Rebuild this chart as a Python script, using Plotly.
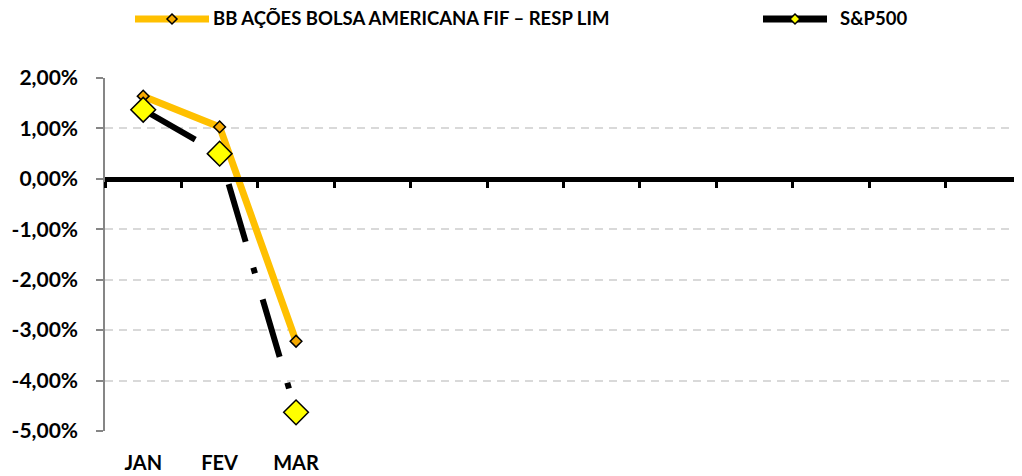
import plotly.graph_objects as go

# Monthly returns (%)
months = ["JAN", "FEV", "MAR"]
all_months = ["JAN", "FEV", "MAR", "ABR", "MAI", "JUN", "JUL", "AGO", "SET", "OUT", "NOV", "DEZ"]
bb_fund = [1.64, 1.03, -3.22]
sp500 = [1.37, 0.50, -4.63]

y_ticks = [2, 1, 0, -1, -2, -3, -4, -5]
y_tick_labels = ["2,00%", "1,00%", "0,00%", "-1,00%", "-2,00%", "-3,00%", "-4,00%", "-5,00%"]

bb_name = "BB AÇÕES BOLSA AMERICANA FIF – RESP LIM"
sp_name = "S&P500"

FONT = "Lato"
GOLD = "#FFC000"
OFF = 8  # page body margin in the browser
W, H = 1022 - OFF, 476 - OFF
ML, MR, MT, MB = 105 - OFF, 0, 78 - OFF, 45


def px_to_paper(px, py):
    # screen pixel -> paper coordinates of the plot area
    px, py = px - OFF, py - OFF
    return (px - ML) / (W - ML - MR), (H - MB - py) / (H - MT - MB)


fig = go.Figure()

fig.add_trace(
    go.Scatter(
        x=months,
        y=bb_fund,
        mode="lines+markers",
        name=bb_name,
        line=dict(color=GOLD, width=7),
        marker=dict(symbol="diamond", size=9, color="#F5A800", line=dict(color="black", width=1.5)),
        showlegend=False,
    )
)
fig.add_trace(
    go.Scatter(
        x=months,
        y=sp500,
        mode="lines+markers",
        name=sp_name,
        line=dict(color="black", width=6, dash="60px,27px,6px,27px"),
        marker=dict(symbol="diamond", size=19, color="#FFFF00", line=dict(color="black", width=1.5)),
        showlegend=False,
    )
)
# empty trace so the zero-crossing axis gets drawn
fig.add_trace(go.Scatter(x=[None], y=[None], xaxis="x2", showlegend=False, hoverinfo="skip"))

# Legend drawn by hand (long line swatch with a small diamond)
legend_items = [
    (bb_name, GOLD, "#F5A800", 135, 209, 213),
    (sp_name, "black", "#FFFF00", 763, 827, 840),
]
for label, line_col, mk_col, x0, x1, tx in legend_items:
    lx0, ly = px_to_paper(x0, 19)
    lx1, _ = px_to_paper(x1, 19)
    fig.add_shape(type="line", xref="paper", yref="paper", x0=lx0, x1=lx1, y0=ly, y1=ly,
                  line=dict(color=line_col, width=7))
    cx = (x0 + x1) / 2
    pts = [px_to_paper(cx, 14), px_to_paper(cx + 5, 19), px_to_paper(cx, 24), px_to_paper(cx - 5, 19)]
    path = "M" + " L".join(f"{a},{b}" for a, b in pts) + " Z"
    fig.add_shape(type="path", xref="paper", yref="paper", path=path,
                  fillcolor=mk_col, line=dict(color="black", width=1.5))
    ax, ay = px_to_paper(tx, 18)
    fig.add_annotation(x=ax, y=ay, xref="paper", yref="paper", text=label, showarrow=False,
                       xanchor="left", yanchor="middle", xshift=-2,
                       font=dict(family=FONT, size=18.5, weight="bold", color="black"))

fig.update_layout(
    width=W,
    height=H,
    margin=dict(l=ML, r=MR, t=MT, b=MB),
    plot_bgcolor="white",
    paper_bgcolor="white",
    font=dict(family=FONT, color="black"),
    showlegend=False,
    xaxis=dict(
        type="category",
        categoryorder="array",
        categoryarray=all_months,
        range=[-0.5, 11.5],
        tickvals=months,
        ticks="",
        showline=False,
        showgrid=False,
        zeroline=False,
        automargin=False,
        tickfont=dict(family=FONT, size=20, weight="bold"),
        ticklabelstandoff=18,
    ),
    # axis line at zero with boundary tick marks
    xaxis2=dict(
        overlaying="x",
        anchor="free",
        position=5 / 7,
        range=[-0.5, 11.5],
        tickmode="linear",
        tick0=-0.5,
        dtick=1,
        showline=True,
        linecolor="black",
        linewidth=4.5,
        ticks="outside",
        ticklen=6,
        tickwidth=3,
        tickcolor="black",
        showticklabels=False,
        showgrid=False,
        zeroline=False,
        automargin=False,
    ),
    yaxis=dict(
        range=[-5, 2],
        tickvals=y_ticks,
        ticktext=y_tick_labels,
        showline=True,
        linecolor="#868686",
        linewidth=1.5,
        ticks="outside",
        ticklen=7,
        tickwidth=1.5,
        tickcolor="#868686",
        showgrid=True,
        gridcolor="#D9D9D9",
        gridwidth=2,
        griddash="8px,6px",
        zeroline=False,
        automargin=False,
        tickfont=dict(family=FONT, size=21, weight="bold"),
        ticklabelstandoff=14,
    ),
)

fig.write_html("out.html")
